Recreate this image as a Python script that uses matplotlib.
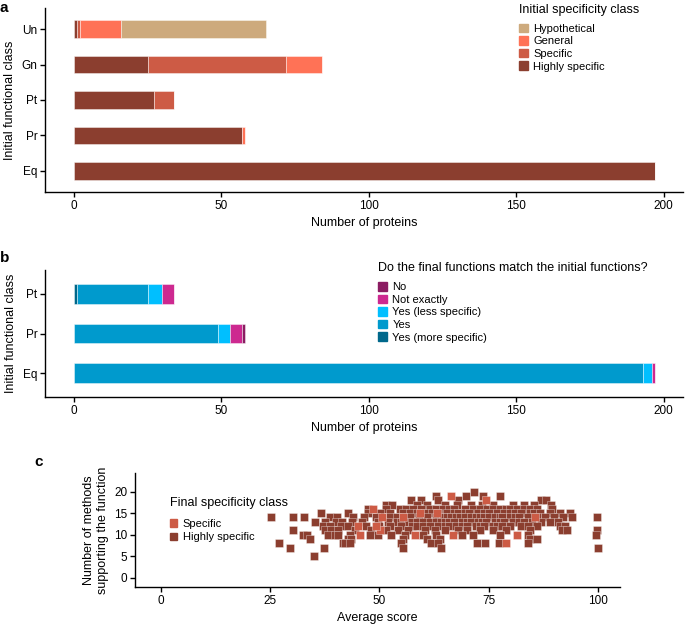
import numpy as np
import matplotlib
matplotlib.use('Agg')
import matplotlib.pyplot as plt
from matplotlib.patches import Patch

plt.rcParams['font.family'] = ['Liberation Sans', 'DejaVu Sans']

# panel a: initial specificity class per initial functional class
classes_a = ['Eq', 'Pr', 'Pt', 'Gn', 'Un']
highly_specific = [197, 57, 27, 25, 1]
specific = [0, 0, 7, 47, 1]
general = [0, 1, 0, 12, 14]
hypothetical = [0, 0, 0, 0, 49]

# panel b: do final functions match the initial ones
classes_b = ['Eq', 'Pr', 'Pt']
yes_more = [0, 0, 1]
yes = [193, 49, 24]
yes_less = [3, 4, 5]
not_exactly = [1, 4, 4]
no = [0, 1, 0]

# panel c: average score for each number of supporting methods (highly specific)
hs_methods_rows = [20, 19, 18, 17, 16, 15, 14, 13, 12, 11, 10, 9, 8, 7, 5]
hs_score_rows = [
    [71.7],
    [62.9, 69.8, 73.8, 77.6],
    [57.3, 59.6, 63.5, 68.0, 87.0, 88.2],
    [51.6, 52.8, 58.5, 60.8, 65.0, 67.7, 71.0, 73.5, 76.0, 80.6, 83.0, 85.3, 89.4],
    [47.4, 51.6, 54.7, 56.0, 57.7, 59.5, 61.5, 63.0, 64.5, 66.0, 67.0, 69.5, 71.5, 73.0, 74.6, 76.0,
     77.6, 79.0, 80.0, 81.5, 83.0, 84.5, 86.0, 89.5],
    [36.5, 42.8, 47.4, 50.1, 52.4, 55.4, 57.0, 58.5, 60.5, 62.0, 63.5, 65.5, 67.0, 68.0, 69.5, 70.5,
     72.5, 74.0, 75.0, 77.0, 78.5, 79.9, 81.0, 82.5, 84.5, 85.5, 86.8, 89.0, 91.4, 93.7],
    [25.1, 30.2, 32.7, 38.6, 40.3, 44.0, 46.5, 49.3, 52.5, 54.0, 55.5, 57.0, 59.0, 61.0, 63.0, 64.5,
     65.5, 66.5, 67.5, 68.5, 69.5, 71.0, 72.0, 73.0, 74.0, 75.0, 76.5, 77.5, 78.0, 80.0, 81.0, 82.0,
     84.0, 86.0, 88.0, 90.0, 92.0, 94.0, 99.8],
    [35.2, 37.5, 40.1, 41.5, 43.6, 45.9, 49.7, 52.0, 54.0, 55.0, 56.5, 57.5, 58.5, 60.0, 61.6, 63.0,
     64.0, 65.0, 66.0, 67.0, 69.0, 70.0, 71.0, 72.5, 73.5, 74.5, 76.5, 77.5, 78.5, 80.5, 82.0, 83.0,
     85.0, 87.0, 89.0, 91.0],
    [37.1, 38.6, 41.3, 42.8, 47.0, 50.0, 52.5, 55.0, 57.5, 58.5, 60.0, 61.5, 63.5, 65.0, 66.0, 67.5,
     69.0, 70.0, 72.0, 73.0, 74.0, 76.0, 77.0, 78.0, 80.0, 82.5, 84.0, 86.0, 91.4, 92.5],
    [30.2, 37.5, 39.0, 40.5, 44.5, 48.0, 51.5, 54.3, 56.5, 60.4, 62.7, 65.0, 68.0, 70.0, 73.0, 76.0,
     79.0, 84.5, 91.7, 92.9, 99.8],
    [32.5, 33.5, 38.2, 39.8, 40.5, 43.2, 47.8, 49.7, 52.6, 55.8, 60.0, 63.0, 68.8, 71.5, 77.6, 84.0, 99.6],
    [34.0, 42.8, 43.4, 55.4, 60.8, 63.9, 84.5, 86.0],
    [27.1, 41.7, 42.0, 43.2, 55.0, 61.9, 63.5, 72.3, 74.2, 77.3, 84.1],
    [29.6, 37.3, 55.4, 64.2, 100.0],
    [35.0],
]
# specific
sp_score = [45.1, 45.5, 48.5, 50.5, 50.1, 55.4, 58.1, 59.2, 63.1, 66.5, 66.9, 74.4, 79.0, 81.6, 85.6, 49.3]
sp_methods = [12, 10, 16, 14, 11, 14, 10, 15, 15, 19, 10, 18, 8, 10, 14, 12]

hs_score = [x for row in hs_score_rows for x in row]
hs_methods = [m for m, row in zip(hs_methods_rows, hs_score_rows) for _ in row]

c_hyp = '#CDAA7D'
c_gen = '#FF7256'
c_spe = '#CD5B45'
c_hig = '#8B3E2F'
c_no = '#8B1C62'
c_not = '#CD2990'
c_less = '#00BFFF'
c_yes = '#009ACD'
c_more = '#00688B'

W, H = 685, 628
fig = plt.figure(figsize=(6.85, 6.28), dpi=100)

def box(l, t, r, b):
    return [l / W, 1 - b / H, (r - l) / W, (b - t) / H]

def style(ax):
    for s in ['top', 'right']:
        ax.spines[s].set_visible(False)
    ax.spines['left'].set_linewidth(1.0)
    ax.spines['bottom'].set_linewidth(1.0)
    ax.tick_params(length=3.5, width=1.0, labelsize=8.5, colors='black', pad=2)

def add_legend(ax, colors, labels, title, x, ytitle, yfirst, size=0.8, spacing=0.22):
    fig.text(x / W, 1 - ytitle / H, title, fontsize=9, va='center', ha='left')
    h = [Patch(color=c) for c in colors]
    ax.legend(h, labels, loc='upper left', bbox_to_anchor=(x / W, 1 - (yfirst - 4.5) / H),
              bbox_transform=fig.transFigure, frameon=False, fontsize=8,
              handlelength=size, handleheight=size, handletextpad=0.5,
              labelspacing=spacing, borderpad=0, borderaxespad=0)

edge = (1, 1, 1, 0.6)

# ---- panel a
ax1 = fig.add_axes(box(45, 8, 683, 192))
ya = np.arange(1, len(classes_a) + 1)
left = np.zeros(len(classes_a))
for vals, col in [(highly_specific, c_hig), (specific, c_spe), (general, c_gen), (hypothetical, c_hyp)]:
    ax1.barh(ya, vals, left=left, height=0.5, color=col, edgecolor=edge, linewidth=0.5)
    left += np.array(vals)
ax1.set_yticks(ya, classes_a)
ax1.set_ylim(0.4, 5.6)
ax1.set_xlim(-9.85, 206.6)
ax1.set_xticks([0, 50, 100, 150, 200])
ax1.set_xlabel('Number of proteins', fontsize=9, labelpad=4)
ax1.set_ylabel('Initial functional class', fontsize=9, labelpad=4)
style(ax1)
add_legend(ax1, [c_hyp, c_gen, c_spe, c_hig], ['Hypothetical', 'General', 'Specific', 'Highly specific'],
           'Initial specificity class', 519, 10, 28.3)

# ---- panel b
ax2 = fig.add_axes(box(45, 270, 683, 397))
yb = np.arange(1, len(classes_b) + 1)
left = np.zeros(len(classes_b))
for vals, col in [(yes_more, c_more), (yes, c_yes), (yes_less, c_less), (not_exactly, c_not), (no, c_no)]:
    ax2.barh(yb, vals, left=left, height=0.5, color=col, edgecolor=edge, linewidth=0.5)
    left += np.array(vals)
ax2.set_yticks(yb, classes_b)
ax2.set_ylim(0.4, 3.6)
ax2.set_xlim(-9.85, 206.6)
ax2.set_xticks([0, 50, 100, 150, 200])
ax2.set_xlabel('Number of proteins', fontsize=9, labelpad=4)
ax2.set_ylabel('Initial functional class', fontsize=9, labelpad=4)
style(ax2)
add_legend(ax2, [c_no, c_not, c_less, c_yes, c_more],
           ['No', 'Not exactly', 'Yes (less specific)', 'Yes', 'Yes (more specific)'],
           'Do the final functions match the initial functions?', 378, 268, 286.7)

# ---- panel c
ax3 = fig.add_axes(box(135, 473, 620, 587))
ax3.scatter(hs_score, hs_methods, marker='s', s=32, color=c_hig, edgecolor=edge, linewidth=0.4)
ax3.scatter(sp_score, sp_methods, marker='s', s=32, color=c_spe, edgecolor=edge, linewidth=0.4)
ax3.set_xlim(-6, 105.1)
ax3.set_ylim(-2.1, 24.3)
ax3.set_xticks([0, 25, 50, 75, 100])
ax3.set_yticks([0, 5, 10, 15, 20])
ax3.set_xlabel('Average score', fontsize=9, labelpad=4)
ax3.set_ylabel('Number of methods\nsupporting the function', fontsize=9, labelpad=4)
style(ax3)
add_legend(ax3, [c_spe, c_hig], ['Specific', 'Highly specific'], 'Final specificity class',
           170, 503, 523.3, size=0.65, spacing=0.3)

fig.text(0 / W, 1 - 1 / H, 'a', fontsize=11, fontweight='bold', va='top', ha='left')
fig.text(0 / W, 1 - 251 / H, 'b', fontsize=11, fontweight='bold', va='top', ha='left')
fig.text(34 / W, 1 - 455 / H, 'c', fontsize=11, fontweight='bold', va='top', ha='left')

fig.savefig('out.png', dpi=100)
